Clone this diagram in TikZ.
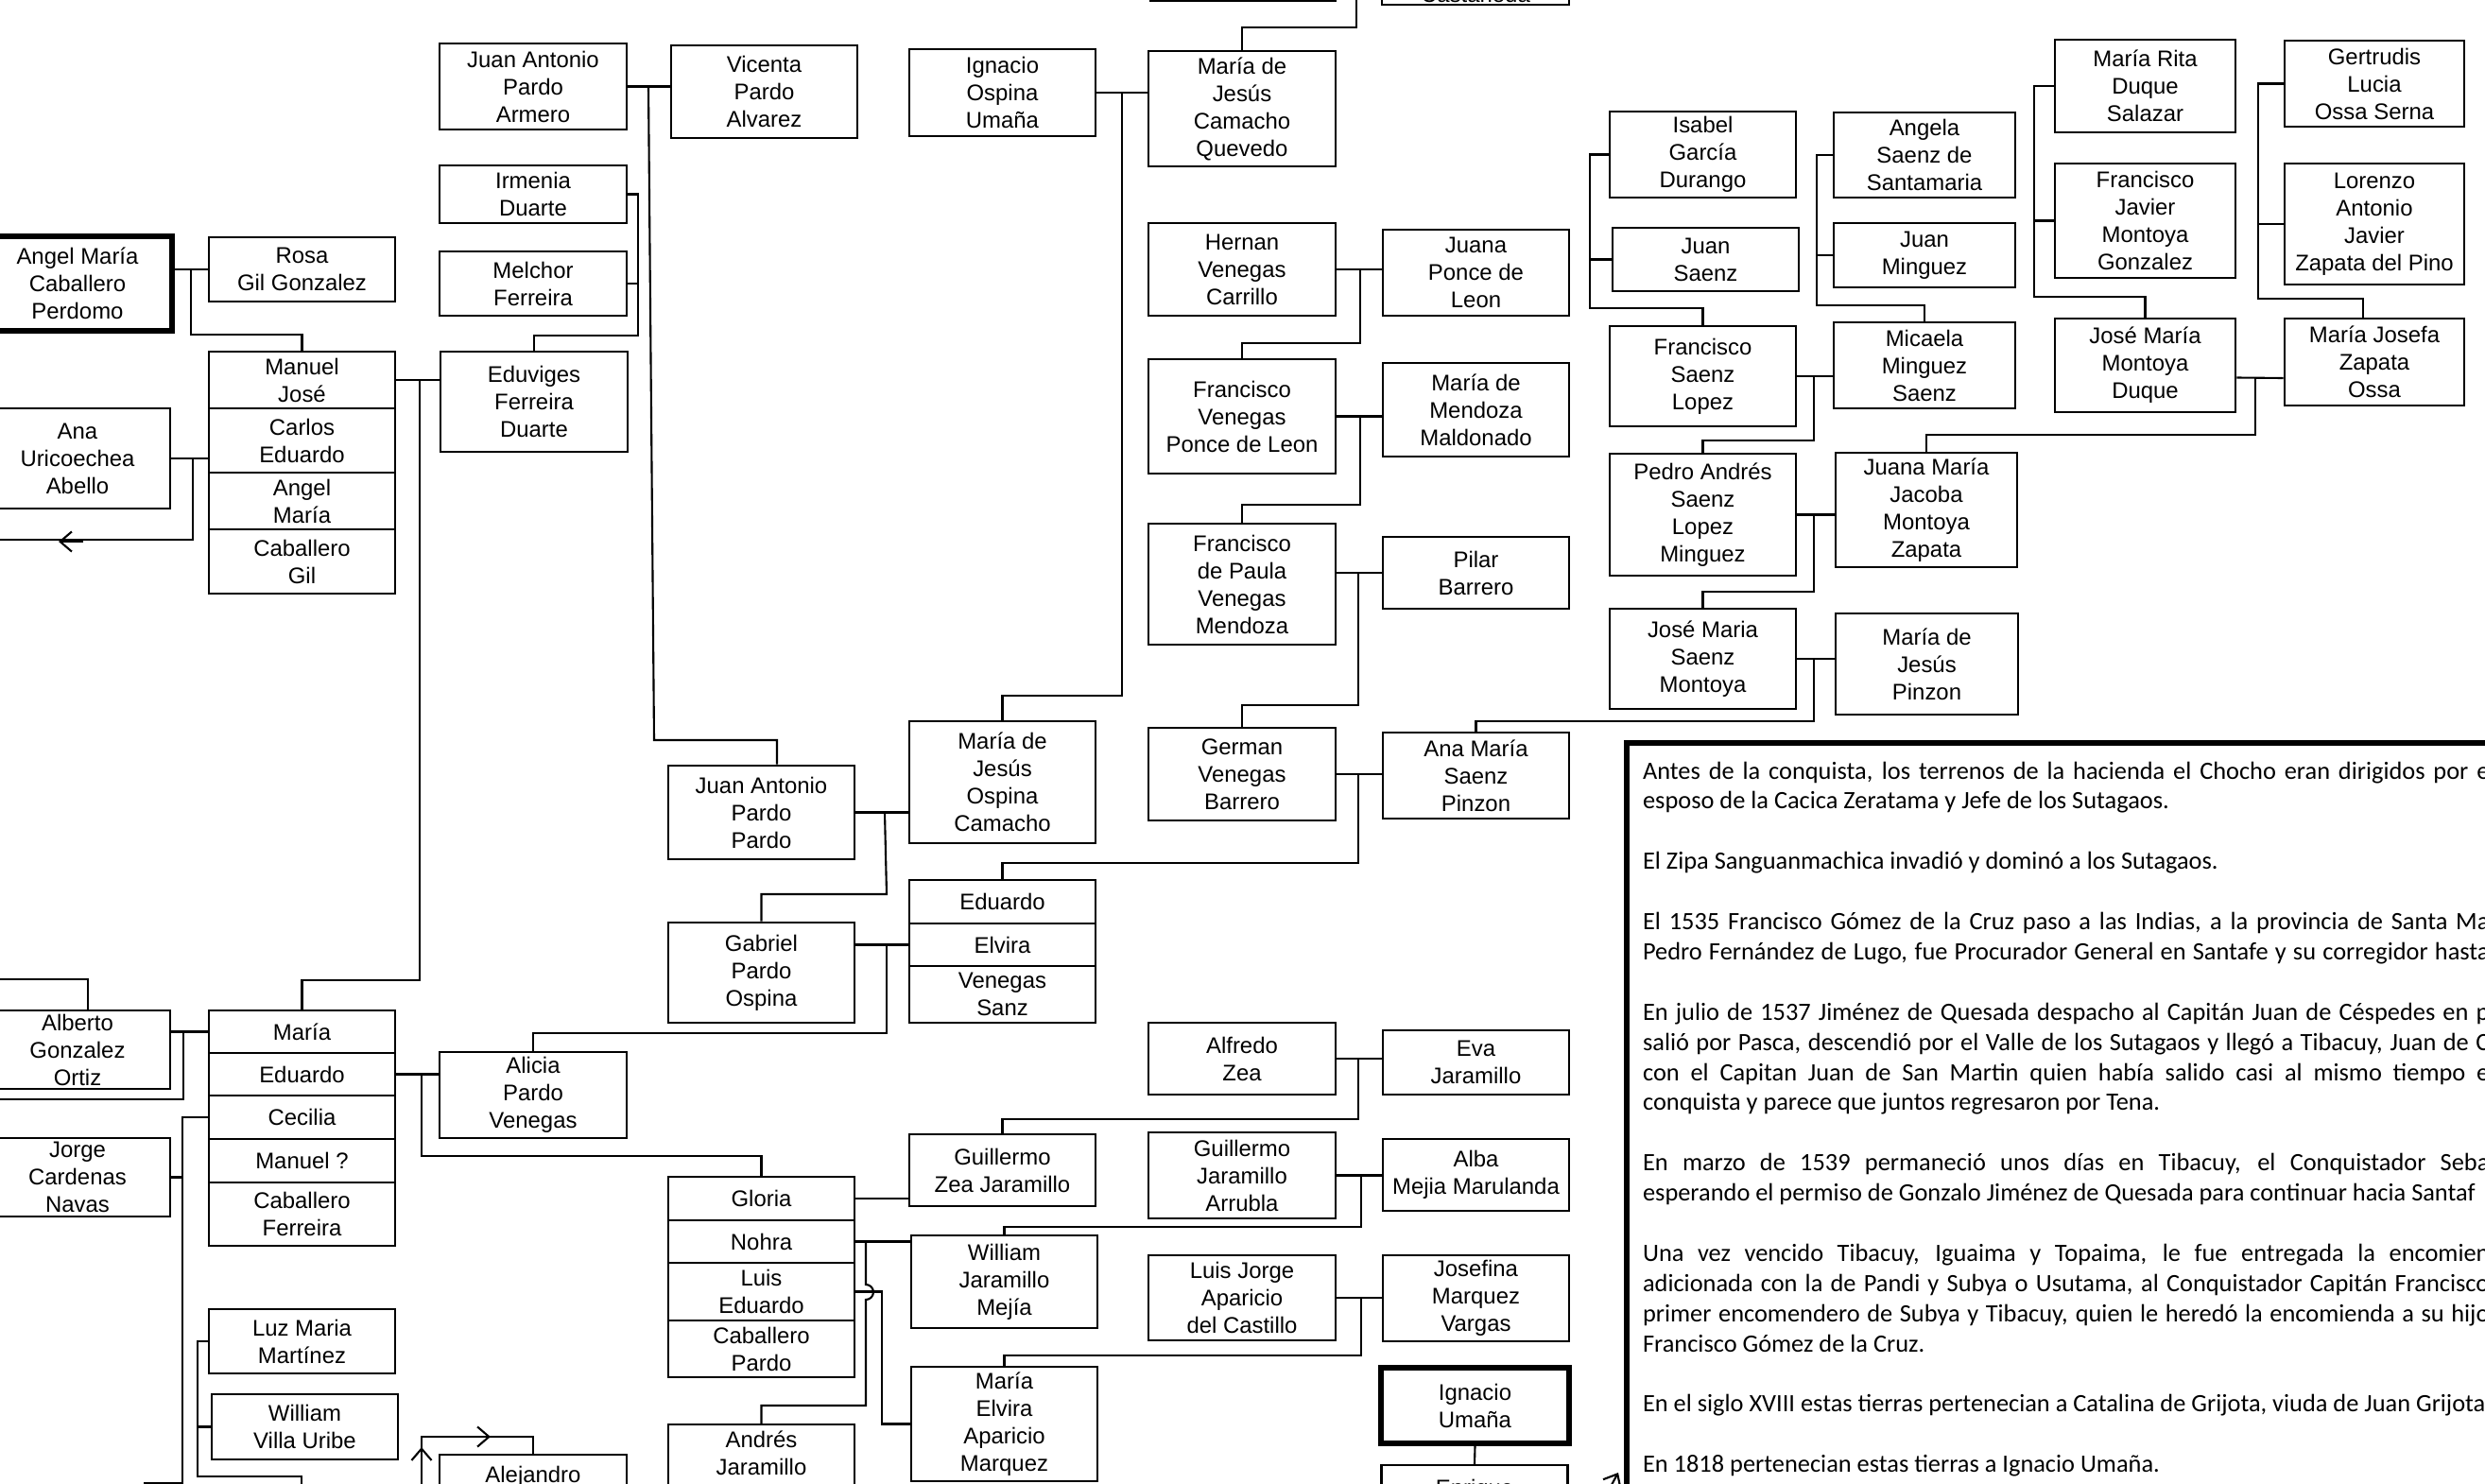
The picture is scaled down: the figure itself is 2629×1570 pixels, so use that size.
\documentclass[tikz,border=0pt]{standalone}
\usepackage{fontspec}
\setmainfont{Liberation Sans}
\newfontfamily\histfont{Carlito}
\usetikzlibrary{arrows.meta}

\tikzset{
  person/.style={draw, line width=0.7pt, align=center, inner sep=0pt, minimum width=1.97cm,
    font=\fontsize{6.8}{8.25}\selectfont},
  founder/.style={person, line width=1.5pt},
  histline/.style={anchor=base west, inner sep=0pt, font=\histfont\fontsize{7.5}{9}\selectfont},
  flowtip/.style={-{Straight Barb[length=3.5pt,width=6pt]}}
}

\begin{document}
\begin{tikzpicture}[x=0.01cm, y=-0.01cm, line width=0.6pt]
  \useasboundingbox (0,0) rectangle (2629,1570);
  \clip (0,0) rectangle (2629,1570);

  % Boxes cut at the top
  \node[person, anchor=south, minimum width=1.96cm, minimum height=0.95cm] (topbox) at (1315,2) {};
  \node[person, anchor=south, minimum width=1.98cm, text height=0.85cm, inner ysep=0.025cm] (castaneda) at (1561,6) {Castaneda};

  % Caballero / Pardo / Ferreira side
  \node[founder, minimum width=2.00cm, minimum height=1.00cm] (angelcp) at (82,300) {Angel María\\Caballero\\Perdomo};
  \node[person, minimum height=0.68cm] (rosa) at (319.5,285) {Rosa\\Gil Gonzalez};
  \node[person, minimum width=1.98cm, minimum height=0.91cm] (japa) at (564,91.5) {Juan Antonio\\Pardo\\Armero};
  \node[person, minimum width=1.98cm, minimum height=0.61cm] (irmenia) at (564,205.5) {Irmenia\\Duarte};
  \node[person, minimum width=1.98cm, minimum height=0.68cm] (melchor) at (564,300) {Melchor\\Ferreira};
  \node[person, minimum width=1.98cm, minimum height=1.06cm] (eduviges) at (565,425) {Eduviges\\Ferreira\\Duarte};
  \node[person, minimum width=1.96cm, minimum height=1.06cm] (ana) at (82,485) {Ana\\Uricoechea\\Abello};
  \node[person, minimum height=0.98cm] (vicenta) at (808.5,97) {Vicenta\\Pardo\\Alvarez};

  % Manuel José stack
  \node[person, minimum height=0.60cm] (manuel) at (319.5,402) {Manuel\\José};
  \node[person, minimum height=0.68cm] (carlos) at (319.5,466) {Carlos\\Eduardo};
  \node[person, minimum height=0.60cm] (angelm) at (319.5,530) {Angel\\María};
  \node[person, minimum height=0.68cm] (cabgil) at (319.5,594) {Caballero\\Gil};

  % Ospina / Camacho / Venegas
  \node[person, minimum height=0.92cm] (ignacioou) at (1060.5,98) {Ignacio\\Ospina\\Umaña};
  \node[person, minimum width=1.98cm, minimum height=1.22cm] (mjcq) at (1314,115) {María de\\Jesús\\Camacho\\Quevedo};
  \node[person, minimum height=0.99cm] (japp) at (805.5,859.5) {Juan Antonio\\Pardo\\Pardo};
  \node[person, minimum height=1.29cm] (mjoc) at (1060.5,827.5) {María de\\Jesús\\Ospina\\Camacho};
  \node[person, minimum width=1.98cm, minimum height=0.98cm] (hernan) at (1314,285) {Hernan\\Venegas\\Carrillo};
  \node[person, minimum height=0.91cm] (juanapl) at (1561.5,288.5) {Juana\\Ponce de\\Leon};
  \node[person, minimum width=1.98cm, minimum height=1.21cm] (fvpl) at (1314,440.5) {Francisco\\Venegas\\Ponce de Leon};
  \node[person, minimum height=0.99cm] (mmm) at (1561.5,433.5) {María de\\Mendoza\\Maldonado};
  \node[person, minimum width=1.98cm, minimum height=1.28cm] (fpvm) at (1314,618) {Francisco\\de Paula\\Venegas\\Mendoza};
  \node[person, minimum height=0.76cm] (pilar) at (1561.5,606) {Pilar\\Barrero};
  \node[person, minimum width=1.98cm, minimum height=0.98cm] (german) at (1314,819) {German\\Venegas\\Barrero};
  \node[person, minimum height=0.91cm] (anams) at (1561.5,820.5) {Ana María\\Saenz\\Pinzon};

  % Saenz / Minguez / Montoya / Zapata
  \node[person, minimum height=0.91cm] (isabel) at (1801.5,163.5) {Isabel\\García\\Durango};
  \node[person, minimum height=0.67cm] (juans) at (1804.5,274.5) {Juan\\Saenz};
  \node[person, minimum height=1.06cm] (fsl) at (1801.5,398) {Francisco\\Saenz\\Lopez};
  \node[person, minimum height=1.29cm] (pedro) at (1801.5,544.5) {Pedro Andrés\\Saenz\\Lopez\\Minguez};
  \node[person, minimum height=1.06cm] (jmsm) at (1801.5,697) {José Maria\\Saenz\\Montoya};
  \node[person, minimum width=1.92cm, minimum height=0.90cm] (angela) at (2036,164) {Angela\\Saenz de\\Santamaria};
  \node[person, minimum width=1.92cm, minimum height=0.68cm] (juanm) at (2036,270) {Juan\\Minguez};
  \node[person, minimum width=1.92cm, minimum height=0.91cm] (micaela) at (2036,386.5) {Micaela\\Minguez\\Saenz};
  \node[person, minimum width=1.92cm, minimum height=1.21cm] (jmj) at (2038,539.5) {Juana María\\Jacoba\\Montoya\\Zapata};
  \node[person, minimum width=1.93cm, minimum height=1.07cm] (mjp) at (2038.5,702.5) {María de\\Jesús\\Pinzon};
  \node[person, minimum width=1.91cm, minimum height=0.98cm] (mrita) at (2269.5,91) {María Rita\\Duque\\Salazar};
  \node[person, minimum width=1.91cm, minimum height=1.21cm] (fjmg) at (2269.5,233.5) {Francisco\\Javier\\Montoya\\Gonzalez};
  \node[person, minimum width=1.91cm, minimum height=0.99cm] (jmmd) at (2269.5,386.5) {José María\\Montoya\\Duque};
  \node[person, minimum width=1.90cm, minimum height=0.91cm] (gertrudis) at (2512,88.5) {Gertrudis\\Lucia\\Ossa Serna};
  \node[person, minimum width=1.90cm, minimum height=1.28cm] (lorenzo) at (2512,237) {Lorenzo\\Antonio\\Javier\\Zapata del Pino};
  \node[person, minimum width=1.90cm, minimum height=0.92cm] (mjzo) at (2512,383) {María Josefa\\Zapata\\Ossa};

  % Pardo Ospina and Eduardo stack
  \node[person, minimum height=1.06cm] (gabriel) at (805.5,1029) {Gabriel\\Pardo\\Ospina};
  \node[person, minimum height=0.46cm] (eduardo) at (1060.5,954) {Eduardo};
  \node[person, minimum height=0.45cm] (elvira) at (1060.5,999.5) {Elvira};
  \node[person, minimum height=0.60cm] (venegas) at (1060.5,1052) {Venegas\\Sanz};
  \node[person, minimum width=1.98cm, minimum height=0.91cm] (alicia) at (564,1158.5) {Alicia\\Pardo\\Venegas};

  % María stack
  \node[person, minimum width=1.96cm, minimum height=0.83cm] (alberto) at (82,1110.5) {Alberto\\Gonzalez\\Ortiz};
  \node[person, minimum width=1.96cm, minimum height=0.83cm] (jorge) at (82,1245.5) {Jorge\\Cardenas\\Navas};
  \node[person, minimum height=0.45cm] (maria) at (319.5,1091.5) {María};
  \node[person, minimum height=0.45cm] (eduardom) at (319.5,1136.5) {Eduardo};
  \node[person, minimum height=0.46cm] (cecilia) at (319.5,1182) {Cecilia};
  \node[person, minimum height=0.46cm] (manuelq) at (319.5,1228) {Manuel ?};
  \node[person, minimum height=0.67cm] (cabfer) at (319.5,1284.5) {Caballero\\Ferreira};
  \node[person, minimum height=0.68cm] (luzmaria) at (319.5,1419) {Luz Maria\\Martínez};
  \node[person, minimum height=0.69cm] (william) at (322.5,1509.5) {William\\Villa Uribe};
  \node[person, anchor=north, minimum width=1.98cm, inner ysep=0.12cm, text depth=0.6cm] (alejandro) at (564,1538) {Alejandro};

  % Gloria stack
  \node[person, minimum height=0.46cm] (gloria) at (805.5,1268) {Gloria};
  \node[person, minimum height=0.45cm] (nohra) at (805.5,1313.5) {Nohra};
  \node[person, minimum height=0.61cm] (luised) at (805.5,1366.5) {Luis\\Eduardo};
  \node[person, minimum height=0.60cm] (cabpar) at (805.5,1427) {Caballero\\Pardo};
  \node[person, anchor=north, inner ysep=0.07cm, text depth=0.6cm] (andres) at (805.5,1506) {Andrés\\Jaramillo};

  % Zea / Jaramillo / Aparicio
  \node[person, minimum height=0.76cm] (gzj) at (1060.5,1238) {Guillermo\\Zea Jaramillo};
  \node[person, minimum height=0.98cm] (wjm) at (1062.5,1356) {William\\Jaramillo\\Mejía};
  \node[person, minimum height=1.21cm] (meam) at (1062.5,1506.5) {María\\Elvira\\Aparicio\\Marquez};
  \node[person, minimum width=1.98cm, minimum height=0.76cm] (alfredo) at (1314,1120) {Alfredo\\Zea};
  \node[person, minimum height=0.68cm] (eva) at (1561.5,1124) {Eva\\Jaramillo};
  \node[person, minimum width=1.98cm, minimum height=0.91cm] (gja) at (1314,1243.5) {Guillermo\\Jaramillo\\Arrubla};
  \node[person, minimum height=0.76cm] (alba) at (1561.5,1243) {Alba\\Mejia Marulanda};
  \node[person, minimum width=1.98cm, minimum height=0.90cm] (ljac) at (1314,1373) {Luis Jorge\\Aparicio\\del Castillo};
  \node[person, minimum height=0.91cm] (josefina) at (1561.5,1373.5) {Josefina\\Marquez\\Vargas};
  \node[founder, minimum width=1.99cm, minimum height=0.80cm] (ignaciou) at (1560.5,1487) {Ignacio\\Umaña};
  \node[person, anchor=north, inner ysep=0.15cm, text depth=0.6cm] (enrique) at (1560,1549) {Enrique};

  % Connectors, upper left
  \draw (angelcp.east |- rosa.west) -- (rosa.west);
  \draw (202,285) -- (202,354) -| (manuel.north);
  \draw (ana.east) -- (ana.east -| carlos.west);
  \draw (204,485) -- (204,571) -- (-10,571);
  \draw[flowtip] (88,573) -- (62,573);
  \draw (manuel.east) -- (manuel.east -| eduviges.west);
  \draw (444,402) -- (444,1037) -| (maria.north);
  \draw (irmenia.east) -- (675,205.5) -- (675,355) -| (eduviges.north);
  \draw (melchor.east) -- (675,300);
  \draw (japa.east) -- (japa.east -| vicenta.west);
  \draw (686,91.5) -- (692,783) -| ([xshift=0.165cm]japp.north);

  % Connectors, Ospina and Venegas
  \draw (japp.east) -- (japp.east -| mjoc.west);
  \draw (936,859.5) -- (938,946) -| (gabriel.north);
  \draw (ignacioou.east) -- (ignacioou.east -| mjcq.west);
  \draw (1187,98) -- (1187,736) -| (mjoc.north);
  \draw (1435,-20) -- (1435,29) -| (mjcq.north);
  \draw (hernan.east) -- (hernan.east -| juanapl.west);
  \draw (1439,285) -- (1439,363) -| (fvpl.north);
  \draw (fvpl.east) -- (fvpl.east -| mmm.west);
  \draw (1439,440.5) -- (1439,534) -| (fpvm.north);
  \draw (fpvm.east |- pilar.west) -- (pilar.west);
  \draw (1437,606) -- (1437,746) -| (german.north);
  \draw (german.east) -- (german.east -| anams.west);
  \draw (1437,819) -- (1437,913) -| (eduardo.north);

  % Connectors, Saenz and Montoya
  \draw (isabel.west) -- (1682,163.5) -- (1682,326) -| (fsl.north);
  \draw (juans.west) -- (1682,274.5);
  \draw (fsl.east) -- (fsl.east -| micaela.west);
  \draw (1919,398) -- (1919,466) -| (pedro.north);
  \draw (pedro.east) -- (pedro.east -| jmj.west);
  \draw (1919,544.5) -- (1919,626) -| (jmsm.north);
  \draw (jmsm.east) -- (jmsm.east -| mjp.west);
  \draw (1919,697) -- (1919,763) -| (anams.north);
  \draw (angela.west) -- (1922,164) -- (1922,323) -| (micaela.north);
  \draw (juanm.west) -- (1922,270);
  \draw (mrita.west) -- (2152,91) -- (2152,314) -| (jmmd.north);
  \draw (fjmg.west) -- (2152,233.5);
  \draw (gertrudis.west) -- (2389,88.5) -- (2389,316) -| ([xshift=-0.12cm]mjzo.north);
  \draw (lorenzo.west) -- (2389,237);
  \draw ([yshift=-0.13cm]jmmd.east) -- ([yshift=-0.17cm]mjzo.west);
  \draw (2386,400) -- (2386,460) -| (jmj.north);

  % Connectors, lower part
  \draw (gabriel.east |- elvira.west) -- (elvira.west);
  \draw (938,999.5) -- (938,1093) -| (alicia.north);
  \draw (alberto.east |- maria.west) -- (maria.west);
  \draw (194,1091.5) -- (194,1163) -- (-10,1163);
  \draw (-10,1036) -| ([xshift=0.11cm]alberto.north);
  \draw (eduardom.east) -- (eduardom.east -| alicia.west);
  \draw (446,1136.5) -- (446,1223) -| (gloria.north);
  \draw (cecilia.west) -- (193,1182) |- (jorge.east);
  \draw (193,1245.5) -- (193,1569) -- (152,1569);
  \draw (luzmaria.west) -- (209,1419) -- (209,1562) -- (319,1562) -- (319,1600);
  \draw (william.west) -- (209,1509.5);
  \draw (446,1600) -- (446,1520) -| (alejandro.north);
  \draw[flowtip] (446,1552) -- (446,1531);
  \draw[flowtip] (478,1520) -- (519,1520);
  \draw (gloria.east) -- (gloria.east -| gzj.west);
  \draw (nohra.east) -- (nohra.east -| wjm.west);
  \draw (916,1313.5) -- (916,1359) arc[start angle=90, end angle=-90, radius=0.08cm] -- (916,1487) -| (andres.north);
  \draw (luised.east) -- (933,1366.5) |- (meam.west);
  \draw (alfredo.east) -- (alfredo.east -| eva.west);
  \draw (1437,1120) -- (1437,1184) -| (gzj.north);
  \draw (gja.east) -- (gja.east -| alba.west);
  \draw (1440,1243.5) -- (1440,1298) -| (wjm.north);
  \draw (ljac.east) -- (ljac.east -| josefina.west);
  \draw (1440,1373) -- (1440,1434) -| (meam.north);
  \draw (ignaciou.south) -- (enrique.north);
  \draw[flowtip] (1700,1580) -- (1712,1558);

  % History text box
  \node[draw, line width=1.7pt, anchor=north west, minimum width=10cm, minimum height=9cm] (historia) at (1718,783) {};
  \node[histline] (h0) at (1737,824) {\makebox[8.95cm][s]{Antes de la conquista, los terrenos de la hacienda el Chocho eran dirigidos por e}};
  \node[histline] (h1) at (1737,855.9) {esposo de la Cacica Zeratama y Jefe de los Sutagaos.};
  \node[histline] (h3) at (1737,919.7) {El Zipa Sanguanmachica invadió y dominó a los Sutagaos.};
  \node[histline] (h5) at (1737,983.5) {\makebox[8.95cm][s]{El 1535 Francisco Gómez de la Cruz paso a las Indias, a la provincia de Santa Ma}};
  \node[histline] (h6) at (1737,1015.4) {\makebox[8.95cm][s]{Pedro Fernández de Lugo, fue Procurador General en Santafe y su corregidor hasta}};
  \node[histline] (h8) at (1737,1079.2) {\makebox[8.95cm][s]{En julio de 1537 Jiménez de Quesada despacho al Capitán Juan de Céspedes en p}};
  \node[histline] (h9) at (1737,1111.1) {\makebox[8.95cm][s]{salió por Pasca, descendió por el Valle de los Sutagaos y llegó a Tibacuy, Juan de C}};
  \node[histline] (h10) at (1737,1143) {\makebox[8.95cm][s]{con el Capitan Juan de San Martin quien había salido casi al mismo tiempo e}};
  \node[histline] (h11) at (1737,1174.9) {conquista y parece que juntos regresaron por Tena.};
  \node[histline] (h13) at (1737,1238.7) {\makebox[8.95cm][s]{En marzo de 1539 permaneció unos días en Tibacuy, el Conquistador Seba}};
  \node[histline] (h14) at (1737,1270.6) {esperando el permiso de Gonzalo Jiménez de Quesada para continuar hacia Santaf};
  \node[histline] (h16) at (1737,1334.4) {\makebox[8.95cm][s]{Una vez vencido Tibacuy, Iguaima y Topaima, le fue entregada la encomien}};
  \node[histline] (h17) at (1737,1366.3) {\makebox[8.95cm][s]{adicionada con la de Pandi y Subya o Usutama, al Conquistador Capitán Francisco}};
  \node[histline] (h18) at (1737,1398.2) {\makebox[8.95cm][s]{primer encomendero de Subya y Tibacuy, quien le heredó la encomienda a su hijo}};
  \node[histline] (h19) at (1737,1430.1) {Francisco Gómez de la Cruz.};
  \node[histline] (h21) at (1737,1493.9) {En el siglo XVIII estas tierras pertenecian a Catalina de Grijota, viuda de Juan Grijota};
  \node[histline] (h23) at (1737,1557.7) {En 1818 pertenecian estas tierras a Ignacio Umaña.};
\end{tikzpicture}
\end{document}
